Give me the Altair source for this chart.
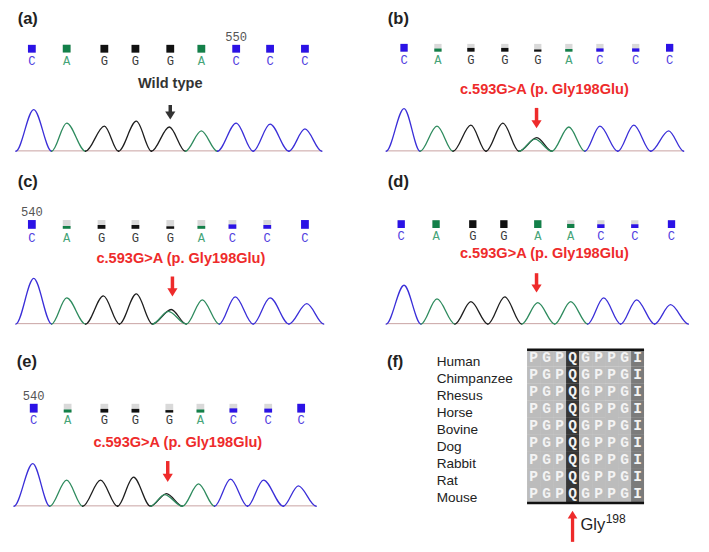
import altair as alt
import pandas as pd

# ---------------- layout (reference px -> rendered px) ----------------
S = 0.97
COL_X0 = [0, 354]
ROW_Y0 = [0, 170, 345]
PANEL_W = [343, 344]
PANEL_H = [165, 170, 201]

TRACE_COLORS = {"C": "#3a2ed8", "A": "#2e8b5e", "G": "#1e1e1e"}
BAR_COLORS = {"C": "#2b12e6", "A": "#138049", "G": "#111111"}
LETTER_COLORS = {"C": "#5140e0", "A": "#45a478", "G": "#3a3a3a"}
RED = "#ee2b2b"

# ---------------- data ----------------
# (a) wild type
A_BASES = ["C", "A", "G", "G", "G", "A", "C", "C", "C"]
A_SCANS = [20, 57, 97, 130, 167, 200, 237, 273, 310]
A_QUAL = [100, 100, 100, 100, 100, 100, 100, 100, 100]
A_PEAK_SLOT = [0, 1, 2, 3, 4, 5, 6, 7, 8]
A_PEAK_BASE = ["C", "A", "G", "G", "G", "A", "C", "C", "C"]
A_PEAK_POS = [22, 57, 97, 131, 166, 200, 237, 273, 310]
A_PEAK_H = [43, 29, 26, 31, 25, 21, 29, 28, 23]
A_VALLEYS = [3, 41, 77, 112, 147, 183, 217, 255, 293, 328]

# (b)
B_BASES = ["C", "A", "G", "G", "G", "A", "C", "C", "C"]
B_SCANS = [51, 87, 122, 158, 193, 226, 259, 297, 333]
B_QUAL = [100, 40, 48, 48, 28, 34, 42, 42, 100]
B_PEAK_SLOT = [0, 1, 2, 3, 4, 4, 5, 6, 7, 8]
B_PEAK_BASE = ["C", "A", "G", "G", "G", "A", "A", "C", "C", "C"]
B_PEAK_POS = [51, 86, 122, 156, 192, 190, 226, 259, 295, 332]
B_PEAK_H = [44, 26, 27, 29, 14, 12.5, 25, 26, 27, 21]
B_VALLEYS = [32, 68, 103, 138, 173, 208, 243, 278, 313, 348]

# (c)
C_BASES = ["C", "A", "G", "G", "G", "A", "C", "C", "C"]
C_SCANS = [20, 57, 94, 130, 167, 200, 233, 270, 310]
C_QUAL = [100, 33, 43, 43, 28, 33, 50, 43, 100]
C_PEAK_SLOT = [0, 1, 2, 3, 4, 4, 5, 6, 7, 8]
C_PEAK_BASE = ["C", "A", "G", "G", "G", "A", "A", "C", "C", "C"]
C_PEAK_POS = [22, 57, 96, 131, 168, 165, 201, 236, 273, 312]
C_PEAK_H = [47, 27, 29, 31, 15, 13, 25, 28, 27, 21]
C_VALLEYS = [3, 41, 77, 113, 148, 184, 219, 255, 293, 330]

# (d)
D_BASES = ["C", "A", "G", "G", "A", "A", "C", "C", "C"]
D_SCANS = [48, 85, 124, 157, 193, 228, 260, 296, 335]
D_QUAL = [100, 100, 100, 100, 100, 52, 48, 48, 100]
D_PEAK_SLOT = [0, 1, 2, 3, 4, 5, 6, 7, 8]
D_PEAK_BASE = ["C", "A", "G", "G", "A", "A", "C", "C", "C"]
D_PEAK_POS = [51, 86, 122, 158, 193, 228, 263, 298, 334]
D_PEAK_H = [40, 26, 23, 28, 22, 23, 27, 25, 20]
D_VALLEYS = [32, 69, 105, 140, 176, 211, 246, 281, 317, 353]

# (e)
E_BASES = ["C", "A", "G", "G", "G", "A", "C", "C", "C"]
E_SCANS = [22, 58, 97, 130, 166, 199, 234, 271, 306]
E_QUAL = [100, 35, 42, 42, 28, 35, 48, 45, 100]
E_PEAK_SLOT = [0, 1, 2, 3, 4, 4, 5, 6, 7, 8]
E_PEAK_BASE = ["C", "A", "G", "G", "G", "A", "A", "C", "C", "C"]
E_PEAK_POS = [21, 57, 93, 128, 163, 161, 197, 231, 266, 303]
E_PEAK_H = [44, 27, 27, 30, 13, 12, 23, 28, 27, 21]
E_VALLEYS = [1, 39, 74, 111, 146, 180, 214, 249, 287, 322]

MUTATION_NOTE = "c.593G>A (p. Gly198Glu)"
WILD_NOTE = "Wild type"

# (f) conservation
SPECIES = ["Human", "Chimpanzee", "Rhesus", "Horse", "Bovine", "Dog", "Rabbit", "Rat", "Mouse"]
SEQUENCES = [
    "PGPQGPPGI", "PGPQGPPGI", "PGPQGPPGI", "PGPQGPPGI", "PGPQGPPGI",
    "PGPQGPPGI", "PGPQGPPGI", "PGPQGPPGI", "PGPQGPPGI",
]
COLUMN_SHADE = ["light", "light", "light", "dark", "light", "light", "light", "light", "mid"]
SHADE_COLORS = {"light": "#bcbcbc", "dark": "#363636", "mid": "#7b7b7b"}
MUTATION_COL = 3
SITE_LABEL = "Gly"
SITE_SUP = "198"

HEAD_DOWN = "M-1,-0.8L1,-0.8L0,0.8Z"
HEAD_UP = "M-1,0.8L1,0.8L0,-0.8Z"


def cscale(d):
    return alt.Scale(domain=list(d.keys()), range=list(d.values()))


def chrom_panel(p):
    col, row = p["col"], p["row"]
    W, H = PANEL_W[col], PANEL_H[row]
    RW, RH = W / S, H / S
    y0 = ROW_Y0[row]

    def py(v):
        return (v - y0) * S

    def pxl(v):
        return (v - COL_X0[col]) * S

    xs = alt.Scale(domain=[0, RW], nice=False, zero=False)
    yb = p["baseline"] - y0
    ys = alt.Scale(domain=[yb - RH, yb], nice=False, zero=False)
    qb = p["sq_bottom"] - y0
    k = 100.0 / p["sq_h"]
    qs = alt.Scale(domain=[(qb - RH) * k, qb * k], nice=False, zero=False)

    rows = []
    v = p["valleys"]
    for i, (slot, b, pos, h) in enumerate(zip(p["slot"], p["pbase"], p["ppos"], p["ph"])):
        # each peak: flat baseline foot -> apex -> flat baseline foot
        rows += [
            {"seg": i, "base": b, "x": v[slot] - 0.5, "y": 0},
            {"seg": i, "base": b, "x": v[slot], "y": 0},
            {"seg": i, "base": b, "x": pos, "y": h},
            {"seg": i, "base": b, "x": v[slot + 1], "y": 0},
            {"seg": i, "base": b, "x": v[slot + 1] + 0.5, "y": 0},
        ]
    trace_df = pd.DataFrame(rows)
    noise_df = pd.DataFrame({"x": [v[0], v[-1]], "y": [0.4, 0.4]})
    base_df = pd.DataFrame({"x": p["scans"], "base": p["bases"], "q": p["qual"],
                            "full": 100, "zero": 0})

    X = alt.X("x:Q", scale=xs, axis=None)
    layers = []
    layers.append(alt.Chart(noise_df).mark_line(color="#c9a3a3", strokeWidth=1).encode(
        x=X, y=alt.Y("y:Q", scale=ys, axis=None)))
    layers.append(alt.Chart(trace_df).mark_line(interpolate="monotone", strokeWidth=1.3).encode(
        x=X, y=alt.Y("y:Q", scale=ys, axis=None),
        color=alt.Color("base:N", scale=cscale(TRACE_COLORS), legend=None),
        detail="seg:N"))
    bw = p["sq_w"] * S
    layers.append(alt.Chart(base_df).mark_bar(width=bw, color="#d9d9d9").encode(
        x=X, y=alt.Y("full:Q", scale=qs, axis=None), y2="zero:Q"))
    layers.append(alt.Chart(base_df).mark_bar(width=bw).encode(
        x=X, y=alt.Y("q:Q", scale=qs, axis=None), y2="zero:Q",
        color=alt.Color("base:N", scale=cscale(BAR_COLORS), legend=None)))
    layers.append(alt.Chart(base_df).mark_text(font="Liberation Mono", fontSize=12.5 * S,
                                               baseline="middle").encode(
        x=X, y=alt.value(py(p["letter_y"])), text="base:N",
        color=alt.Color("base:N", scale=cscale(LETTER_COLORS), legend=None)))
    if p.get("pos_label"):
        t, slot, yy = p["pos_label"]
        layers.append(alt.Chart(alt.Data(values=[{"x": p["scans"][slot], "t": t}])).mark_text(
            font="Liberation Mono", fontSize=12.5 * S, color="#555555", baseline="middle").encode(
            x=X, y=alt.value(py(yy)), text="t:N"))
    nx, ny, ncol = p["note_pos"]
    layers.append(alt.Chart(alt.Data(values=[{"x": nx, "t": p["note"]}])).mark_text(
        font="Liberation Sans", fontWeight="bold", fontSize=15 * S, color=ncol,
        baseline="middle").encode(x=X, y=alt.value(py(ny)), text="t:N"))
    ax, atop, atip = p["arrow"]
    layers.append(alt.Chart(alt.Data(values=[{"x": ax}])).mark_rule(
        strokeWidth=3.6 * S, color=ncol).encode(
        x=X, y=alt.value(py(atop)), y2=alt.value(py(atip - 5))))
    layers.append(alt.Chart(alt.Data(values=[{"x": ax}])).mark_point(
        shape=HEAD_DOWN, filled=True, size=(10.5 * S) ** 2, color=ncol, opacity=1,
        strokeWidth=0).encode(x=X, y=alt.value(py(atip - 4.2))))
    lx, ly = p["label_pos"]
    layers.append(alt.Chart(alt.Data(values=[{"t": p["label"]}])).mark_text(
        font="Liberation Sans", fontWeight="bold", fontSize=17 * S, color="#222222",
        align="left", baseline="middle").encode(
        x=alt.value(pxl(lx)), y=alt.value(py(ly)), text="t:N"))

    return alt.layer(*layers).resolve_scale(y="independent", color="independent").properties(
        width=W, height=H)


def align_panel():
    col, row = 1, 2
    W, H = PANEL_W[col], PANEL_H[row]
    RW, RH = W / S, H / S
    y0 = ROW_Y0[row]

    def py(v):
        return (v - y0) * S

    def pxl(v):
        return (v - COL_X0[col]) * S

    gx0, cw = 535.5 - COL_X0[col], 13.4
    gy0, rh = 352 - y0, 17.55
    gx = alt.Scale(domain=[-gx0 / cw, (RW - gx0) / cw], nice=False, zero=False)
    gy = alt.Scale(domain=[(RH - gy0) / rh, -gy0 / rh], nice=False, zero=False)

    cells = []
    for r, seq in enumerate(SEQUENCES):
        for c, aa in enumerate(seq):
            cells.append({"r0": r, "r1": r + 1, "c0": c, "c1": c + 1, "cm": c + 0.5,
                          "rm": r + 0.5, "aa": aa, "shade": COLUMN_SHADE[c]})
    cell_df = pd.DataFrame(cells)
    sp_df = pd.DataFrame({"species": SPECIES, "rm": [i + 0.5 for i in range(len(SPECIES))]})
    ncol = len(SEQUENCES[0])
    lines_df = pd.DataFrame({"r": [0, len(SEQUENCES)], "a": [0, 0], "b": [ncol, ncol]})

    layers = [
        alt.Chart(cell_df).mark_rect(strokeWidth=0).encode(
            x=alt.X("c0:Q", scale=gx, axis=None), x2="c1:Q",
            y=alt.Y("r0:Q", scale=gy, axis=None), y2="r1:Q",
            color=alt.Color("shade:N", scale=cscale(SHADE_COLORS), legend=None)),
        alt.Chart(cell_df).mark_text(font="Liberation Mono", fontWeight="bold",
                                     fontSize=15 * S, color="#f3f3f3",
                                     baseline="middle").encode(
            x=alt.X("cm:Q", scale=gx, axis=None), y=alt.Y("rm:Q", scale=gy, axis=None),
            text="aa:N"),
        alt.Chart(lines_df).mark_rule(strokeWidth=2.6 * S, color="#111111").encode(
            x=alt.X("a:Q", scale=gx, axis=None), x2="b:Q",
            y=alt.Y("r:Q", scale=gy, axis=None)),
        alt.Chart(sp_df).mark_text(font="Liberation Sans", fontSize=14 * S, color="#222222",
                                   align="left", baseline="middle", dy=4 * S).encode(
            x=alt.value(pxl(442.3)), y=alt.Y("rm:Q", scale=gy, axis=None),
            text="species:N"),
        alt.Chart(alt.Data(values=[{"x": MUTATION_COL + 0.5}])).mark_rule(
            strokeWidth=3.4 * S, color=RED).encode(
            x=alt.X("x:Q", scale=gx, axis=None), y=alt.value(py(524)), y2=alt.value(py(550))),
        alt.Chart(alt.Data(values=[{"x": MUTATION_COL + 0.5}])).mark_point(
            shape=HEAD_UP, filled=True, size=(10 * S) ** 2, color=RED, opacity=1,
            strokeWidth=0).encode(
            x=alt.X("x:Q", scale=gx, axis=None), y=alt.value(py(522))),
        alt.Chart(alt.Data(values=[{"t": SITE_LABEL}])).mark_text(
            font="Liberation Sans", fontSize=17 * S, color="#222222", align="left",
            baseline="alphabetic").encode(
            x=alt.value(pxl(590.5)), y=alt.value(py(537.5)), text="t:N"),
        alt.Chart(alt.Data(values=[{"t": SITE_SUP}])).mark_text(
            font="Liberation Sans", fontSize=12.5 * S, color="#222222", align="left",
            baseline="alphabetic").encode(
            x=alt.value(pxl(616.5)), y=alt.value(py(531)), text="t:N"),
        alt.Chart(alt.Data(values=[{"t": "(f)"}])).mark_text(
            font="Liberation Sans", fontWeight="bold", fontSize=17 * S, color="#222222",
            align="left", baseline="middle").encode(
            x=alt.value(pxl(391)), y=alt.value(py(365)), text="t:N"),
    ]
    return alt.layer(*layers).resolve_scale(color="independent").properties(width=W, height=H)


PANELS = {
    "a": dict(col=0, row=0, label="(a)", label_pos=(10, 11), bases=A_BASES, scans=A_SCANS,
              qual=A_QUAL, slot=A_PEAK_SLOT, pbase=A_PEAK_BASE, ppos=A_PEAK_POS, ph=A_PEAK_H,
              valleys=A_VALLEYS, baseline=147.7, sq_bottom=46, sq_h=8, sq_w=8, letter_y=54.3,
              pos_label=("550", 6, 30), note=WILD_NOTE, note_pos=(167, 78, "#333333"),
              arrow=(167, 100, 115)),
    "b": dict(col=1, row=0, label="(b)", label_pos=(392, 11), bases=B_BASES, scans=B_SCANS,
              qual=B_QUAL, slot=B_PEAK_SLOT, pbase=B_PEAK_BASE, ppos=B_PEAK_POS, ph=B_PEAK_H,
              valleys=B_VALLEYS, baseline=147.7, sq_bottom=45, sq_h=8, sq_w=7.5, letter_y=54,
              note=MUTATION_NOTE, note_pos=(200, 85, RED), arrow=(191.7, 103, 124)),
    "c": dict(col=0, row=1, label="(c)", label_pos=(10, 179), bases=C_BASES, scans=C_SCANS,
              qual=C_QUAL, slot=C_PEAK_SLOT, pbase=C_PEAK_BASE, ppos=C_PEAK_POS, ph=C_PEAK_H,
              valleys=C_VALLEYS, baseline=325.7, sq_bottom=227.5, sq_h=9, sq_w=8, letter_y=236.5,
              pos_label=("540", 0, 210.5), note=MUTATION_NOTE, note_pos=(178.3, 259, RED),
              arrow=(169.3, 276.7, 297.3)),
    "d": dict(col=1, row=1, label="(d)", label_pos=(392, 179), bases=D_BASES, scans=D_SCANS,
              qual=D_QUAL, slot=D_PEAK_SLOT, pbase=D_PEAK_BASE, ppos=D_PEAK_POS, ph=D_PEAK_H,
              valleys=D_VALLEYS, baseline=325.7, sq_bottom=226.7, sq_h=8, sq_w=7.5, letter_y=235,
              note=MUTATION_NOTE, note_pos=(200, 254, RED), arrow=(191.7, 273.3, 293.3)),
    "e": dict(col=0, row=2, label="(e)", label_pos=(9, 365), bases=E_BASES, scans=E_SCANS,
              qual=E_QUAL, slot=E_PEAK_SLOT, pbase=E_PEAK_BASE, ppos=E_PEAK_POS, ph=E_PEAK_H,
              valleys=E_VALLEYS, baseline=513.3, sq_bottom=416.7, sq_h=9, sq_w=8, letter_y=424,
              pos_label=("540", 0, 400), note=MUTATION_NOTE, note_pos=(175, 448.3, RED),
              arrow=(164.3, 466.7, 488.3)),
}

row1 = alt.hconcat(chrom_panel(PANELS["a"]), chrom_panel(PANELS["b"]), spacing=0)
row2 = alt.hconcat(chrom_panel(PANELS["c"]), chrom_panel(PANELS["d"]), spacing=0)
row3 = alt.hconcat(chrom_panel(PANELS["e"]), align_panel(), spacing=0)

chart = alt.vconcat(row1, row2, row3, spacing=0).properties(
    padding=0, background="white"
).configure_view(stroke=None).configure_concat(spacing=0)

chart.save("out.html", embed_options={"renderer": "svg", "actions": False})
